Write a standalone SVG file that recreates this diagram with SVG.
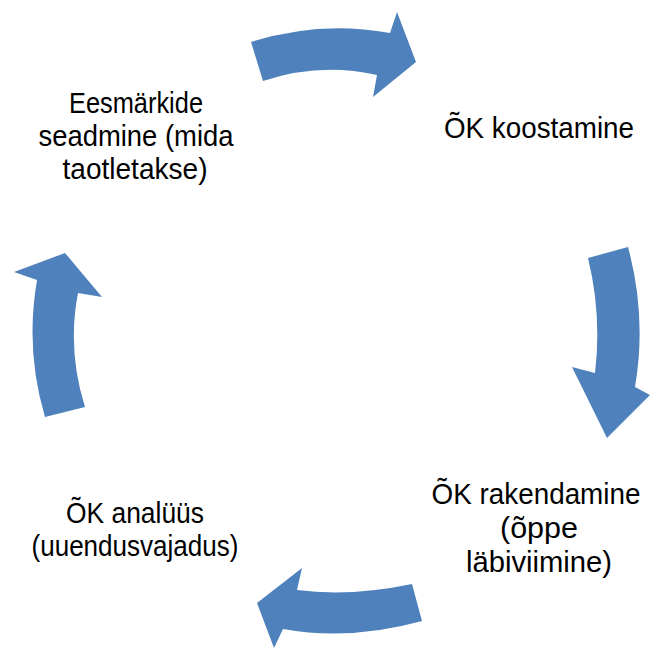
<svg xmlns="http://www.w3.org/2000/svg" width="650" height="649" viewBox="0 0 650 649">
<style>
.arrow{fill:#4F81BD;stroke:none}
text{font-family:"Liberation Sans",Arial,sans-serif;font-size:29px;fill:#000;text-anchor:middle}
</style>
<rect width="650" height="649" fill="#fff"/>
<g id="connectors">
<path class="arrow" d="M251,42 Q320,20 390,33 L397,12 L416,62 L373,97 L377,75 Q320,62 263,81 Z"/>
<path class="arrow" d="M588,258 L628,247 Q647,317 635,387 L650,395 L607,438 L572,367 L595,373 Q602,315 588,258 Z"/>
<path class="arrow" d="M422,621 L412,584 Q350,597 297,590 L302,568 L257,603 L274,648 L283,629 Q350,641 422,621 Z"/>
<path class="arrow" d="M45,417 L85,407 Q67,350 78,293 L102,297 L65,253 L14,272 L37,280 Q25,350 45,417 Z"/>
</g>
<g id="node-goals">
<text x="136" y="113" textLength="134" lengthAdjust="spacingAndGlyphs">Eesmärkide</text>
<text x="136" y="146" textLength="195" lengthAdjust="spacingAndGlyphs">seadmine (mida</text>
<text x="135" y="179" textLength="145" lengthAdjust="spacingAndGlyphs">taotletakse)</text>
</g>
<g id="node-compose">
<text x="539" y="138" textLength="190" lengthAdjust="spacingAndGlyphs">ÕK koostamine</text>
</g>
<g id="node-implement">
<text x="536" y="504" textLength="209" lengthAdjust="spacingAndGlyphs">ÕK rakendamine</text>
<text x="539" y="538" textLength="78" lengthAdjust="spacingAndGlyphs">(õppe</text>
<text x="539" y="572" textLength="146" lengthAdjust="spacingAndGlyphs">läbiviimine)</text>
</g>
<g id="node-analysis">
<text x="135" y="523" textLength="138" lengthAdjust="spacingAndGlyphs">ÕK analüüs</text>
<text x="135" y="556" textLength="207" lengthAdjust="spacingAndGlyphs">(uuendusvajadus)</text>
</g>
</svg>
